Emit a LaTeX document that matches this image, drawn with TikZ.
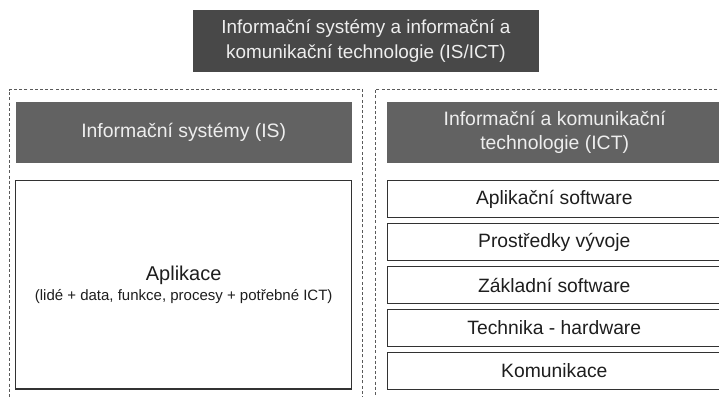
\documentclass[tikz,border=0pt]{standalone}
\usepackage{fontspec}
\setmainfont{Liberation Sans}
\definecolor{topfill}{RGB}{72,72,72}
\definecolor{headfill}{RGB}{98,98,98}
\definecolor{headtext}{RGB}{238,238,238}
\definecolor{boxline}{RGB}{50,50,50}
\definecolor{dashline}{RGB}{90,90,90}
\definecolor{bodytext}{RGB}{30,30,30}
\begin{document}
\begin{tikzpicture}[x=1pt,y=-1pt,
  topbox/.style={fill=topfill, text=headtext, inner sep=0pt, outer sep=0pt, anchor=north west,
    align=center, font=\fontsize{18.9}{25}\selectfont},
  headbox/.style={fill=headfill, text=headtext, inner sep=0pt, outer sep=0pt, anchor=north west,
    align=center, font=\fontsize{19.4}{24}\selectfont},
  container/.style={draw=dashline, line width=0.9pt, dash pattern=on 3pt off 2.2pt,
    inner sep=0pt, outer sep=0pt, anchor=north west},
  layerbox/.style={draw=boxline, line width=1.3pt, fill=white, text=bodytext, inner sep=0pt,
    outer sep=0pt, anchor=north west, align=center, font=\fontsize{19.3}{22}\selectfont},
]
\useasboundingbox (0,0) rectangle (719,396);
\clip (0,0) rectangle (719,396);
\fill[white] (0,0) rectangle (719,396);

% containers
\node[container, minimum width=353.4pt, minimum height=320pt] (leftc) at (9.3,89.5) {};
\node[container, minimum width=370pt, minimum height=320pt] (rightc) at (375,89.5) {};

% top box
\node[topbox, minimum width=345.2pt, minimum height=61.7pt] (top) at (193.3,10)
  {Informační systémy a informační a\\komunikační technologie (IS/ICT)};

% headers
\node[headbox, minimum width=336pt, minimum height=61.3pt] (ishead) at (15.7,101.7)
  {Informační systémy (IS)};
\node[headbox, minimum width=336pt, minimum height=61.3pt] (icthead) at (386.7,101.7)
  {Informační a komunikační\\technologie (ICT)};

% IS application box
\node[layerbox, minimum width=336pt, minimum height=208.5pt, font=\fontsize{20}{22}\selectfont] (apl) at (15.7,180.5)
  {Aplikace\\[-2pt]{\fontsize{15}{17}\selectfont (lidé + data, funkce, procesy + potřebné ICT)}};

% ICT layers
\node[layerbox, minimum width=334pt, minimum height=37pt] (l1) at (387.3,180.5) {Aplikační software};
\node[layerbox, minimum width=334pt, minimum height=37pt] (l2) at (387.3,223.5) {Prostředky vývoje};
\node[layerbox, minimum width=334pt, minimum height=37pt] (l3) at (387.3,266.5) {Základní software};
\node[layerbox, minimum width=334pt, minimum height=37pt] (l4) at (387.3,309.5) {Technika - hardware};
\node[layerbox, minimum width=334pt, minimum height=37pt] (l5) at (387.3,352.5) {Komunikace};
\end{tikzpicture}
\end{document}
